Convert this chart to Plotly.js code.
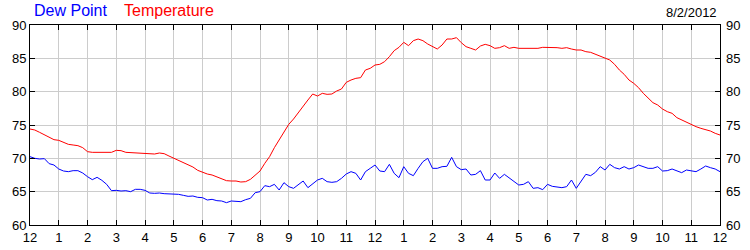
<!DOCTYPE html>
<html>
<head>
<meta charset="utf-8">
<script src="https://cdn.plot.ly/plotly-3.0.1.min.js"></script>
<style>
  html, body { margin: 0; padding: 0; background: #fff; }
  #chart { width: 750px; height: 250px; }
</style>
</head>
<body>
<div id="chart"></div>
<script>
// Readings every 10 minutes from midnight to midnight, 8/2/2012
const sampleMinutes = 10;
const dateLabel = "8/2/2012";
const seriesNames = ["Dew Point", "Temperature"];

const temperature = [
  74.4, 74.25, 73.9, 73.5, 73.2, 72.8, 72.7, 72.35, 72.1, 72.0, 71.9, 71.6,
  71.0, 70.9, 70.9, 70.9, 70.9, 70.9, 71.2, 71.15, 70.9, 70.85, 70.8, 70.75,
  70.65, 70.65, 70.65, 70.8, 70.7, 70.35, 70.0, 69.7, 69.4, 69.0, 68.7, 68.2,
  67.9, 67.65, 67.5, 67.2, 67.0, 66.65, 66.6, 66.6, 66.45, 66.5, 66.85, 67.5,
  68.1, 69.25, 70.25, 71.6, 72.75, 74.0, 75.1, 75.9, 76.9, 77.85, 78.75, 79.65,
  79.35, 79.75, 79.6, 79.65, 80.1, 80.4, 81.4, 81.75, 82.0, 82.1, 83.25, 83.5,
  84.0, 84.1, 84.5, 85.25, 86.15, 86.65, 87.4, 86.9, 87.65, 87.9, 87.65, 87.15,
  86.8, 86.4, 87.0, 87.9, 87.9, 88.1, 87.35, 86.75, 86.5, 86.25, 86.85, 87.1,
  86.9, 86.5, 86.6, 86.9, 86.5, 86.65, 86.5, 86.5, 86.5, 86.5, 86.5, 86.65,
  86.65, 86.65, 86.6, 86.5, 86.6, 86.4, 86.25, 86.25, 86.0, 85.9, 85.6, 85.4,
  85.0, 84.75, 84.1, 83.25, 82.6, 81.75, 81.25, 80.6, 79.75, 79.0, 78.35, 78.0,
  77.4, 77.0, 76.75, 76.1, 75.75, 75.35, 75.0, 74.75, 74.5, 74.3, 74.1, 73.75,
  73.5
];

const dewPoint = [
  70.25, 70.0, 69.9, 69.95, 69.2, 69.0, 68.4, 68.1, 68.0, 68.15, 68.15, 67.8,
  67.25, 66.8, 67.15, 66.7, 66.1, 65.15, 65.2, 65.1, 65.15, 65.0, 65.35, 65.35,
  65.2, 64.8, 64.75, 64.8, 64.7, 64.65, 64.7, 64.6, 64.45, 64.3, 64.35, 64.15,
  64.1, 63.75, 63.85, 63.65, 63.6, 63.35, 63.6, 63.6, 63.5, 63.8, 64.0, 64.85,
  65.0, 65.9, 65.75, 66.1, 65.25, 66.35, 65.75, 65.5, 66.0, 66.6, 65.6, 66.25,
  66.75, 67.0, 66.5, 66.4, 66.5, 67.0, 67.65, 68.0, 67.75, 66.75, 68.0, 68.5,
  69.0, 68.1, 68.0, 69.1, 67.75, 67.1, 68.75, 67.75, 67.4, 68.5, 69.5, 70.0,
  68.5, 68.5, 68.75, 68.8, 70.15, 68.75, 68.3, 68.4, 67.5, 67.6, 68.15, 66.75,
  66.75, 67.8, 67.0, 67.6, 67.1, 66.6, 66.0, 66.1, 66.5, 65.5, 65.6, 65.3,
  66.1, 65.8, 65.75, 65.6, 65.75, 66.75, 65.5, 66.5, 67.6, 67.4, 67.9, 68.75,
  68.25, 69.1, 68.6, 68.4, 68.75, 68.4, 68.6, 69.0, 68.8, 68.5, 68.5, 68.75,
  68.1, 68.15, 68.4, 68.1, 67.85, 68.25, 68.15, 68.0, 68.4, 68.85, 68.6, 68.4,
  68.0
];

const hourTickValues = [0,1,2,3,4,5,6,7,8,9,10,11,12,13,14,15,16,17,18,19,20,21,22,23,24];
const hourTickLabels = ["12","1","2","3","4","5","6","7","8","9","10","11",
                        "12","1","2","3","4","5","6","7","8","9","10","11","12"];
const yTickValues = [60, 65, 70, 75, 80, 85, 90];

const hours = temperature.map((_, i) => i * sampleMinutes / 60);

const FONT = '"Liberation Sans", Arial, sans-serif';

const traces = [
  { x: hours, y: dewPoint, type: 'scatter', mode: 'lines', name: seriesNames[0],
    line: { color: '#0000ff', width: 1 }, yaxis: 'y', hoverinfo: 'skip' },
  { x: hours, y: temperature, type: 'scatter', mode: 'lines', name: seriesNames[1],
    line: { color: '#ff0000', width: 1 }, yaxis: 'y2', hoverinfo: 'skip' }
];

const yCommon = {
  range: [60, 90], tickvals: yTickValues, ticktext: yTickValues.map(String),
  fixedrange: true, zeroline: false,
  tickfont: { family: FONT, size: 13, color: '#000' }
};

const layout = {
  width: 750, height: 250,
  margin: { l: 30, r: 30, t: 25, b: 25, pad: 0 },
  paper_bgcolor: '#ffffff', plot_bgcolor: '#ffffff',
  showlegend: false,
  xaxis: {
    range: [0, 24], tickvals: hourTickValues, ticktext: hourTickLabels,
    ticks: 'inside', ticklen: 5, tickwidth: 1, tickcolor: '#000',
    showline: true, linecolor: '#000', linewidth: 1, mirror: 'ticks',
    showgrid: true, gridcolor: '#cccccc', gridwidth: 1, zeroline: false,
    tickfont: { family: FONT, size: 13, color: '#000' }, fixedrange: true
  },
  yaxis: Object.assign({}, yCommon, {
    side: 'left',
    ticks: 'inside', ticklen: 5, tickwidth: 1, tickcolor: '#000',
    showline: true, linecolor: '#000', linewidth: 1, mirror: 'ticks',
    showgrid: true, gridcolor: '#cccccc', gridwidth: 1
  }),
  yaxis2: Object.assign({}, yCommon, {
    overlaying: 'y', side: 'right', anchor: 'x',
    ticks: '', showline: false, showgrid: false,
    ticklabelstandoff: 5
  }),
  annotations: [
    { text: seriesNames[0], xref: 'paper', yref: 'paper', x: 0.003, y: 1.07,
      xanchor: 'left', yanchor: 'middle', showarrow: false,
      font: { family: FONT, size: 16, color: '#0000ff' } },
    { text: seriesNames[1], xref: 'paper', yref: 'paper', x: 0.134, y: 1.07,
      xanchor: 'left', yanchor: 'middle', showarrow: false,
      font: { family: FONT, size: 16, color: '#ff0000' } },
    { text: dateLabel, xref: 'paper', yref: 'paper', x: 0.998, y: 1.065,
      xanchor: 'right', yanchor: 'middle', showarrow: false,
      font: { family: FONT, size: 13, color: '#000' } }
  ]
};

Plotly.newPlot('chart', traces, layout, { staticPlot: true, displayModeBar: false });
</script>
</body>
</html>
